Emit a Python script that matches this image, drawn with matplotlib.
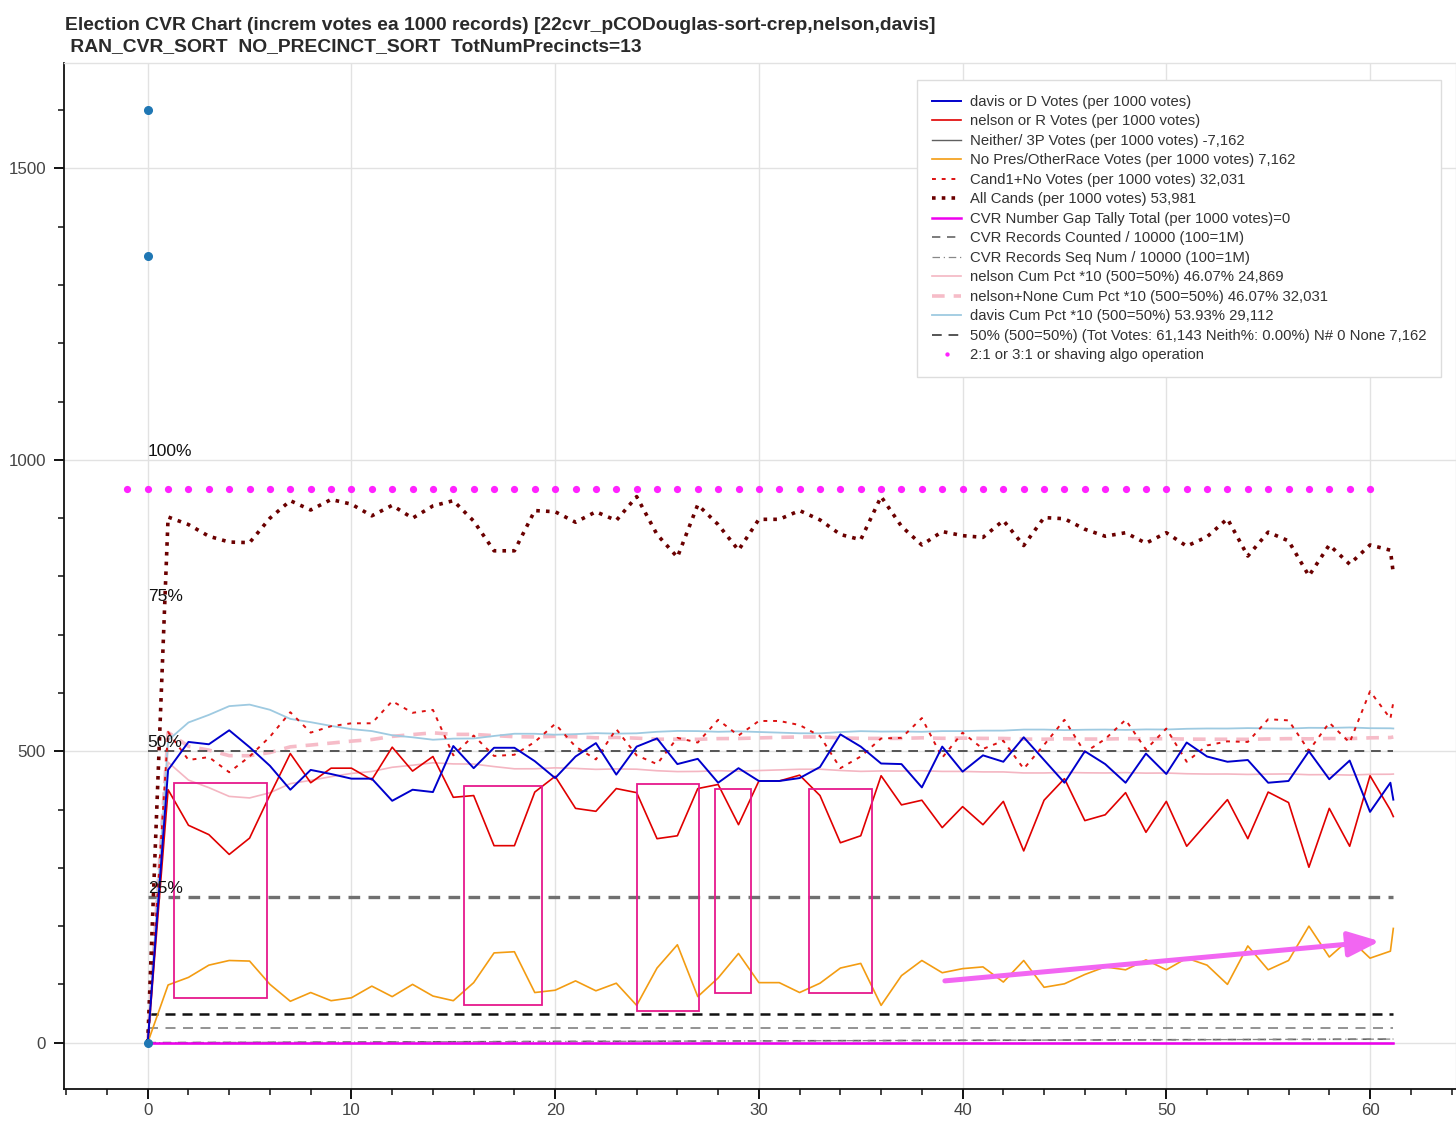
import numpy as np
import matplotlib
matplotlib.use('Agg')
import matplotlib.pyplot as plt
from matplotlib.ticker import MultipleLocator
from matplotlib.patches import Rectangle

plt.rcParams['font.family'] = ['Liberation Sans', 'DejaVu Sans']

# ---------------- data ----------------
x_vals = [0, 1, 2, 3, 4, 5, 6, 7, 8, 9, 10, 11, 12, 13, 14, 15, 16, 17, 18, 19, 20,
          21, 22, 23, 24, 25, 26, 27, 28, 29, 30, 31, 32, 33, 34, 35, 36, 37, 38, 39, 40,
          41, 42, 43, 44, 45, 46, 47, 48, 49, 50, 51, 52, 53, 54, 55, 56, 57, 58, 59, 60,
          61, 61.143]

davis_votes = [0, 468, 516, 512, 536, 507, 475, 434, 468, 461, 453, 453, 415, 434, 430, 509,
               471, 506, 506, 483, 454, 491, 514, 460, 508, 522, 478, 487, 446, 471, 449,
               449, 454, 473, 529, 508, 479, 478, 438, 508, 465, 493, 482, 524, 485, 446,
               500, 478, 446, 496, 461, 515, 491, 482, 485, 446, 449, 500, 452, 484, 396,
               446, 417]

nelson_votes = [0, 434, 373, 357, 323, 351, 425, 496, 446, 471, 471, 451, 507, 466, 491, 421,
                424, 338, 338, 430, 457, 402, 397, 436, 429, 350, 355, 436, 443, 374, 449,
                449, 459, 424, 343, 355, 458, 408, 416, 369, 405, 374, 414, 329, 416, 453,
                381, 391, 429, 361, 414, 337, 377, 417, 350, 430, 412, 301, 402, 337, 458,
                399, 388]

nopres_votes = [0, 99, 112, 133, 141, 140, 100, 71, 86, 72, 77, 97, 79, 100, 80, 72,
                103, 154, 156, 86, 90, 106, 89, 102, 64, 128, 168, 79, 111, 153, 103,
                103, 86, 102, 128, 136, 64, 115, 141, 120, 127, 130, 104, 141, 95, 101,
                117, 130, 125, 142, 125, 145, 133, 100, 166, 125, 141, 200, 147, 178, 145,
                157, 196]

neither_votes = [0] * len(x_vals)
gap_tally = [0] * len(x_vals)

# reference level lines
pct50_level = 500
pct25_level = 250
aux_level_a = 50
aux_level_b = 25

# extra markers
algo_x = list(range(-1, 61))
algo_y = [950] * len(algo_x)
start_pts_x = [0, 0, 0]
start_pts_y = [1600, 1350, 0]

pct_labels = ['100%', '75%', '50%', '25%']
pct_label_y = [1000, 750, 500, 250]

legend_labels = [
    'davis or D Votes (per 1000 votes)',
    'nelson or R Votes (per 1000 votes)',
    'Neither/ 3P Votes (per 1000 votes) -7,162',
    'No Pres/OtherRace Votes (per 1000 votes) 7,162',
    'Cand1+No Votes (per 1000 votes) 32,031',
    'All Cands (per 1000 votes) 53,981',
    'CVR Number Gap Tally Total (per 1000 votes)=0',
    'CVR Records Counted / 10000 (100=1M)',
    'CVR Records Seq Num / 10000 (100=1M)',
    'nelson Cum Pct *10 (500=50%) 46.07% 24,869',
    'nelson+None Cum Pct *10 (500=50%) 46.07% 32,031',
    'davis Cum Pct *10 (500=50%) 53.93% 29,112',
    '50% (500=50%) (Tot Votes: 61,143 Neith%: 0.00%) N# 0 None 7,162',
    '2:1 or 3:1 or shaving algo operation',
]

# annotation boxes (x0, x1, y0, y1) and arrow
boxes = [(1.28, 5.86, 77, 446), (15.54, 19.36, 65, 440), (24.04, 27.06, 54, 443),
         (27.87, 29.6, 86, 436), (32.45, 35.56, 85, 436)]
arrow_from = (39.13, 106)
arrow_to = (60.48, 174)

# ---------------- derived series ----------------
x = np.array(x_vals)
D = np.array(davis_votes, float)
R = np.array(nelson_votes, float)
N = np.array(nopres_votes, float)
cand1_no = R + N
all_cands = D + R
tot = D + R + N
cD, cR, cN, cT = np.cumsum(D), np.cumsum(R), np.cumsum(N), np.cumsum(tot)
with np.errstate(invalid='ignore', divide='ignore'):
    davis_cum = np.where(cD + cR > 0, cD / (cD + cR) * 1000, 0)
    nelson_cum = np.where(cD + cR > 0, cR / (cD + cR) * 1000, 0)
    nelson_none_cum = np.where(cT > 0, (cR + cN) / cT * 1000, 0)
rec_counted = cT / 10000
rec_seq = cT / 10000

# ---------------- figure ----------------
W, H = 1456, 1132
fig = plt.figure(figsize=(W / 100, H / 100), dpi=100)
ax_l, ax_r, ax_t, ax_b = 64, 1456, 63, 1088.7
ax = fig.add_axes([ax_l / W, 1 - ax_b / H, (ax_r - ax_l) / W, (ax_b - ax_t) / H])

ax.set_xlim(-4.11, 64.22)
ax.set_ylim(-79, 1681)

ax.grid(True, which='major', color='#e2e2e2', lw=1.0, zorder=0)
ax.set_axisbelow(True)

xend = x[-1]
# level lines without legend
ax.plot([0, xend], [pct25_level] * 2, color='#707070', lw=2.4, ls=(0, (3.5, 2.5)), zorder=2)
ax.plot([0, xend], [aux_level_a] * 2, color='#111111', lw=1.8, ls=(0, (4, 2.8)), zorder=2)
ax.plot([0, xend], [aux_level_b] * 2, color='#808080', lw=1.2, ls=(0, (6, 4.5)), zorder=2)

h = []
h += ax.plot(x, D, color='#0000cc', lw=1.4, zorder=6)
h += ax.plot(x, R, color='#e00000', lw=1.2, zorder=5)
h += ax.plot(x, neither_votes, color='#606060', lw=1.0, zorder=4)
h += ax.plot(x, N, color='#f39c12', lw=1.2, zorder=4)
h += ax.plot(x, cand1_no, color='#dd1111', lw=1.4, ls=(0, (2, 3)), zorder=4)
h += ax.plot(x, all_cands, color='#6b0000', lw=2.6, ls=(0, (1, 1.7)), zorder=4)
h += ax.plot(x, gap_tally, color='#ee00ee', lw=1.8, zorder=5)
h += ax.plot(x, rec_counted, color='#666666', lw=1.2, ls=(0, (5, 4)), zorder=3)
h += ax.plot(x, rec_seq, color='#888888', lw=0.9, ls=(0, (6, 3, 1, 3)), zorder=3)
h += ax.plot(x, nelson_cum, color='#f4b6c2', lw=1.2, zorder=3)
h += ax.plot(x, nelson_none_cum, color='#f6bcc8', lw=2.6, ls=(0, (3.5, 2.5)), zorder=3)
h += ax.plot(x, davis_cum, color='#9ecae1', lw=1.3, zorder=3)
h += ax.plot([0, xend], [pct50_level] * 2, color='#555555', lw=1.4, ls=(0, (5, 3.5)), zorder=3)
h += ax.plot(algo_x, algo_y, ls='none', marker='o', ms=5.2, color='#ff22ff',
             markeredgewidth=0, zorder=7)

ax.plot(start_pts_x, start_pts_y, ls='none', marker='o', ms=5.5, color='#1f77b4', zorder=8)

for (x0, x1, y0, y1) in boxes:
    ax.add_patch(Rectangle((x0, y0), x1 - x0, y1 - y0, fill=False,
                           edgecolor='#e6198c', lw=1.3, zorder=7))

ax.annotate('', xy=arrow_to, xytext=arrow_from,
            arrowprops=dict(arrowstyle='-|>,head_length=0.8,head_width=0.32',
                            mutation_scale=24, color='#f266f2', lw=3.6,
                            shrinkA=0, shrinkB=0), zorder=9)

for lab, yv in zip(pct_labels, pct_label_y):
    ax.text(0, yv + 7, lab, ha='left', va='baseline', fontsize=12.5, color='#111111', zorder=9)

# ticks / spines
ax.xaxis.set_major_locator(MultipleLocator(10))
ax.xaxis.set_minor_locator(MultipleLocator(2))
ax.yaxis.set_major_locator(MultipleLocator(500))
ax.yaxis.set_minor_locator(MultipleLocator(100))
ax.tick_params(which='major', direction='out', length=7, width=1.4, color='#111111',
               labelsize=12.2, labelcolor='#444444')
ax.tick_params(axis='x', which='major', pad=3.0)
ax.tick_params(axis='y', which='major', pad=6)
ax.tick_params(which='minor', direction='out', length=4, width=1.1, color='#111111')
for s in ['left', 'bottom']:
    ax.spines[s].set_color('#111111')
    ax.spines[s].set_linewidth(1.3)
for s in ['top', 'right']:
    ax.spines[s].set_color('#e2e2e2')
    ax.spines[s].set_linewidth(1.0)

leg = ax.legend(h, legend_labels, loc='upper right', bbox_to_anchor=(0.9892, 0.9834),
                borderaxespad=0, fontsize=10.7, frameon=True, fancybox=False,
                framealpha=1, edgecolor='#dddddd', borderpad=1.0, labelspacing=0.37,
                handlelength=2.0, handletextpad=0.55, markerscale=0.6)
leg.get_frame().set_linewidth(1.0)
for t in leg.get_texts():
    t.set_color('#333333')
leg.set_zorder(20)

fig.text(65 / W, 1 - 17 / H,
         'Election CVR Chart (increm votes ea 1000 records) [22cvr_pCODouglas-sort-crep,nelson,davis]\n'
         ' RAN_CVR_SORT  NO_PRECINCT_SORT  TotNumPrecincts=13',
         ha='left', va='top', fontsize=13.9, fontweight='bold', color='#2a2a2a',
         linespacing=1.32)

fig.savefig('out.png', dpi=100)
